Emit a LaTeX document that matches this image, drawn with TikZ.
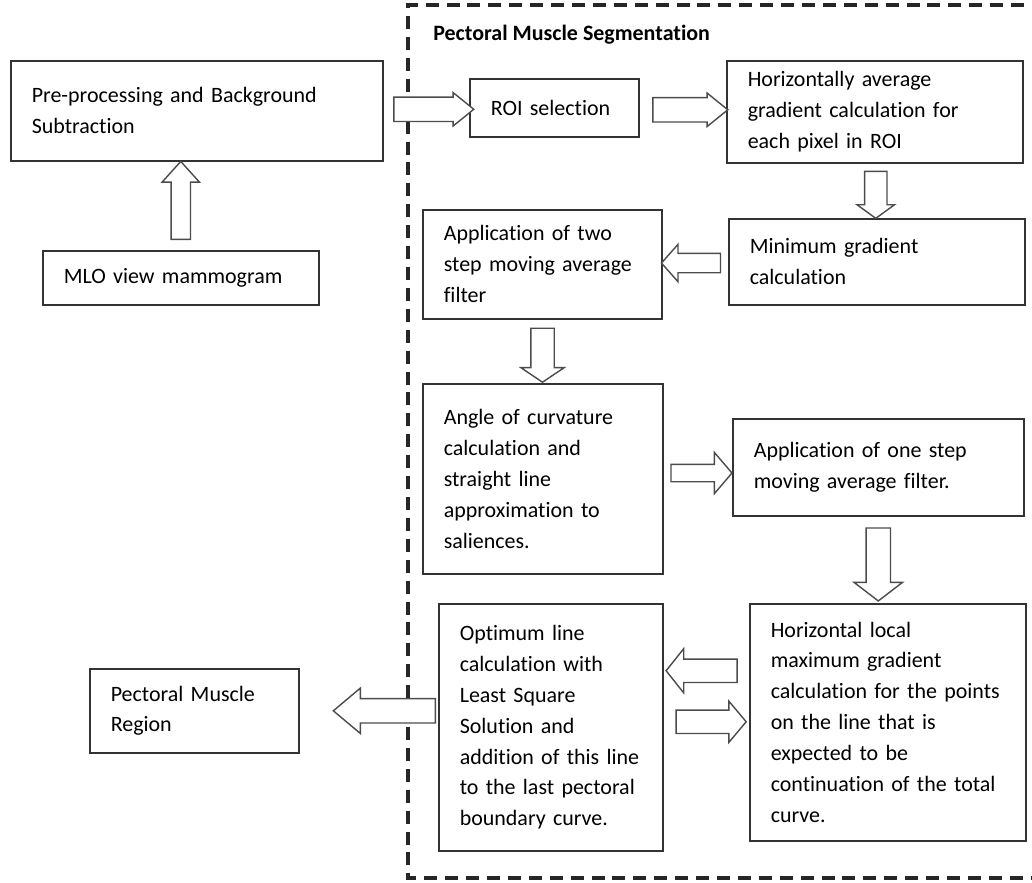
\documentclass[tikz,border=0pt]{standalone}
\usepackage{fontspec}
\setmainfont{Carlito}[Ligatures=NoCommon]
\usetikzlibrary{shapes.arrows}
\usetikzlibrary{calc}

\tikzset{
	box/.style={draw=black!80, line width=0.9pt, anchor=north west, align=left, inner xsep=0.42cm, inner ysep=0pt, font=\fontsize{12.5}{17.6}\selectfont},
	blockarr/.style n args={4}{single arrow, draw=black!70, fill=white, line width=0.8pt, inner xsep=0pt, minimum height=#1, inner ysep=#2, single arrow head extend=#3, single arrow tip angle=#4},
}

\begin{document}
\begin{tikzpicture}[x=0.02cm, y=-0.02cm]

	\useasboundingbox (0,0) rectangle (1032,883);

	%Frame
	\draw[line width=1.8pt, draw=black!85, dash pattern=on 7.4pt off 4.5pt] (1045,5) -- (408,5) -- (408,878) -- (1045,878);
	\node[anchor=base west, inner sep=0pt, font=\fontsize{12.5}{15}\selectfont\bfseries] (title) at (433,40) {Pectoral Muscle Segmentation};

	%Boxes
	\node[box, minimum width=7.44cm, minimum height=2.0cm, text width=6.6cm] (pre) at (10,60) {Pre-processing and Background\\Subtraction};
	\node[box, minimum width=5.52cm, minimum height=1.08cm, text width=4.68cm] (mlo) at (42,250) {MLO view mammogram};
	\node[box, minimum width=3.38cm, minimum height=1.16cm, text width=2.54cm] (roi) at (469,78) {ROI selection};
	\node[box, minimum width=5.92cm, minimum height=2.04cm, text width=5.08cm] (havg) at (726,60) {Horizontally average\\gradient calculation for\\each pixel in ROI};
	\node[box, minimum width=5.92cm, minimum height=1.72cm, text width=5.08cm] (mingrad) at (728,218) {Minimum gradient\\calculation};
	\node[box, minimum width=4.78cm, minimum height=2.18cm, text width=3.94cm] (twostep) at (422,209) {Application of two\\step moving average\\filter};
	\node[box, minimum width=4.8cm, minimum height=3.8cm, text width=3.96cm] (angle) at (422,383) {Angle of curvature\\calculation and\\straight line\\approximation to\\saliences.};
	\node[box, minimum width=5.82cm, minimum height=1.94cm, text width=4.98cm] (onestep) at (732,418) {Application of one step\\moving average filter.};
	\node[box, minimum width=5.52cm, minimum height=4.74cm, text width=4.68cm] (hlocal) at (749,603) {Horizontal local\\maximum gradient\\calculation for the points\\on the line that is\\expected to be\\continuation of the total\\curve.};
	\node[box, minimum width=4.48cm, minimum height=4.94cm, text width=3.64cm] (optimum) at (438,603) {Optimum line\\calculation with\\Least Square\\Solution and\\addition of this line\\to the last pectoral\\boundary curve.};
	\node[box, minimum width=4.18cm, minimum height=1.68cm, text width=3.34cm] (region) at (89,668) {Pectoral Muscle\\Region};

	%Block arrows
	\node[blockarr={1.6cm}{0.23cm}{0.09cm}{78}] (a1) at ($(pre.east)!0.5!(roi.west)$) {};
	\node[blockarr={1.5cm}{0.23cm}{0.09cm}{78}] (a2) at ($(roi.east)!0.5!(havg.west)$) {};
	\node[blockarr={0.94cm}{0.21cm}{0.15cm}{108}, rotate=-90] (a3) at ($(havg.south)!0.5!(mingrad.north)$) {};
	\node[blockarr={1.18cm}{0.18cm}{0.18cm}{97}, rotate=180] (a4) at ($(mingrad.west)!0.5!(twostep.east)$) {};
	\node[blockarr={1.08cm}{0.22cm}{0.2cm}{112}, rotate=-90] (a5) at ($(twostep.south)!0.5!(angle.north)$) {};
	\node[blockarr={1.22cm}{0.16cm}{0.24cm}{99}, rotate=0] (a6) at ($(angle.east)!0.5!(onestep.west)$) {};
	\node[blockarr={1.46cm}{0.23cm}{0.24cm}{105}, rotate=-90] (a7) at ($(onestep.south)!0.5!(onestep.south |- hlocal.north)$) {};
	\node[blockarr={1.42cm}{0.22cm}{0.21cm}{103}, rotate=180] (a8) at ($(optimum.east)!0.5!(hlocal.west) + (0,-54)$) {};
	\node[blockarr={1.4cm}{0.22cm}{0.18cm}{100}] (a9) at ($(optimum.east)!0.5!(hlocal.west) + (0,-3)$) {};
	\node[blockarr={2.04cm}{0.23cm}{0.21cm}{80}, rotate=180, anchor=tail] (a10) at ($(optimum.west |- region.east) + (-2,0)$) {};
	\node[blockarr={1.56cm}{0.18cm}{0.18cm}{84}, rotate=90] (a11) at ($(mlo.north)!0.5!(mlo.north |- pre.south)$) {};

\end{tikzpicture}
\end{document}
